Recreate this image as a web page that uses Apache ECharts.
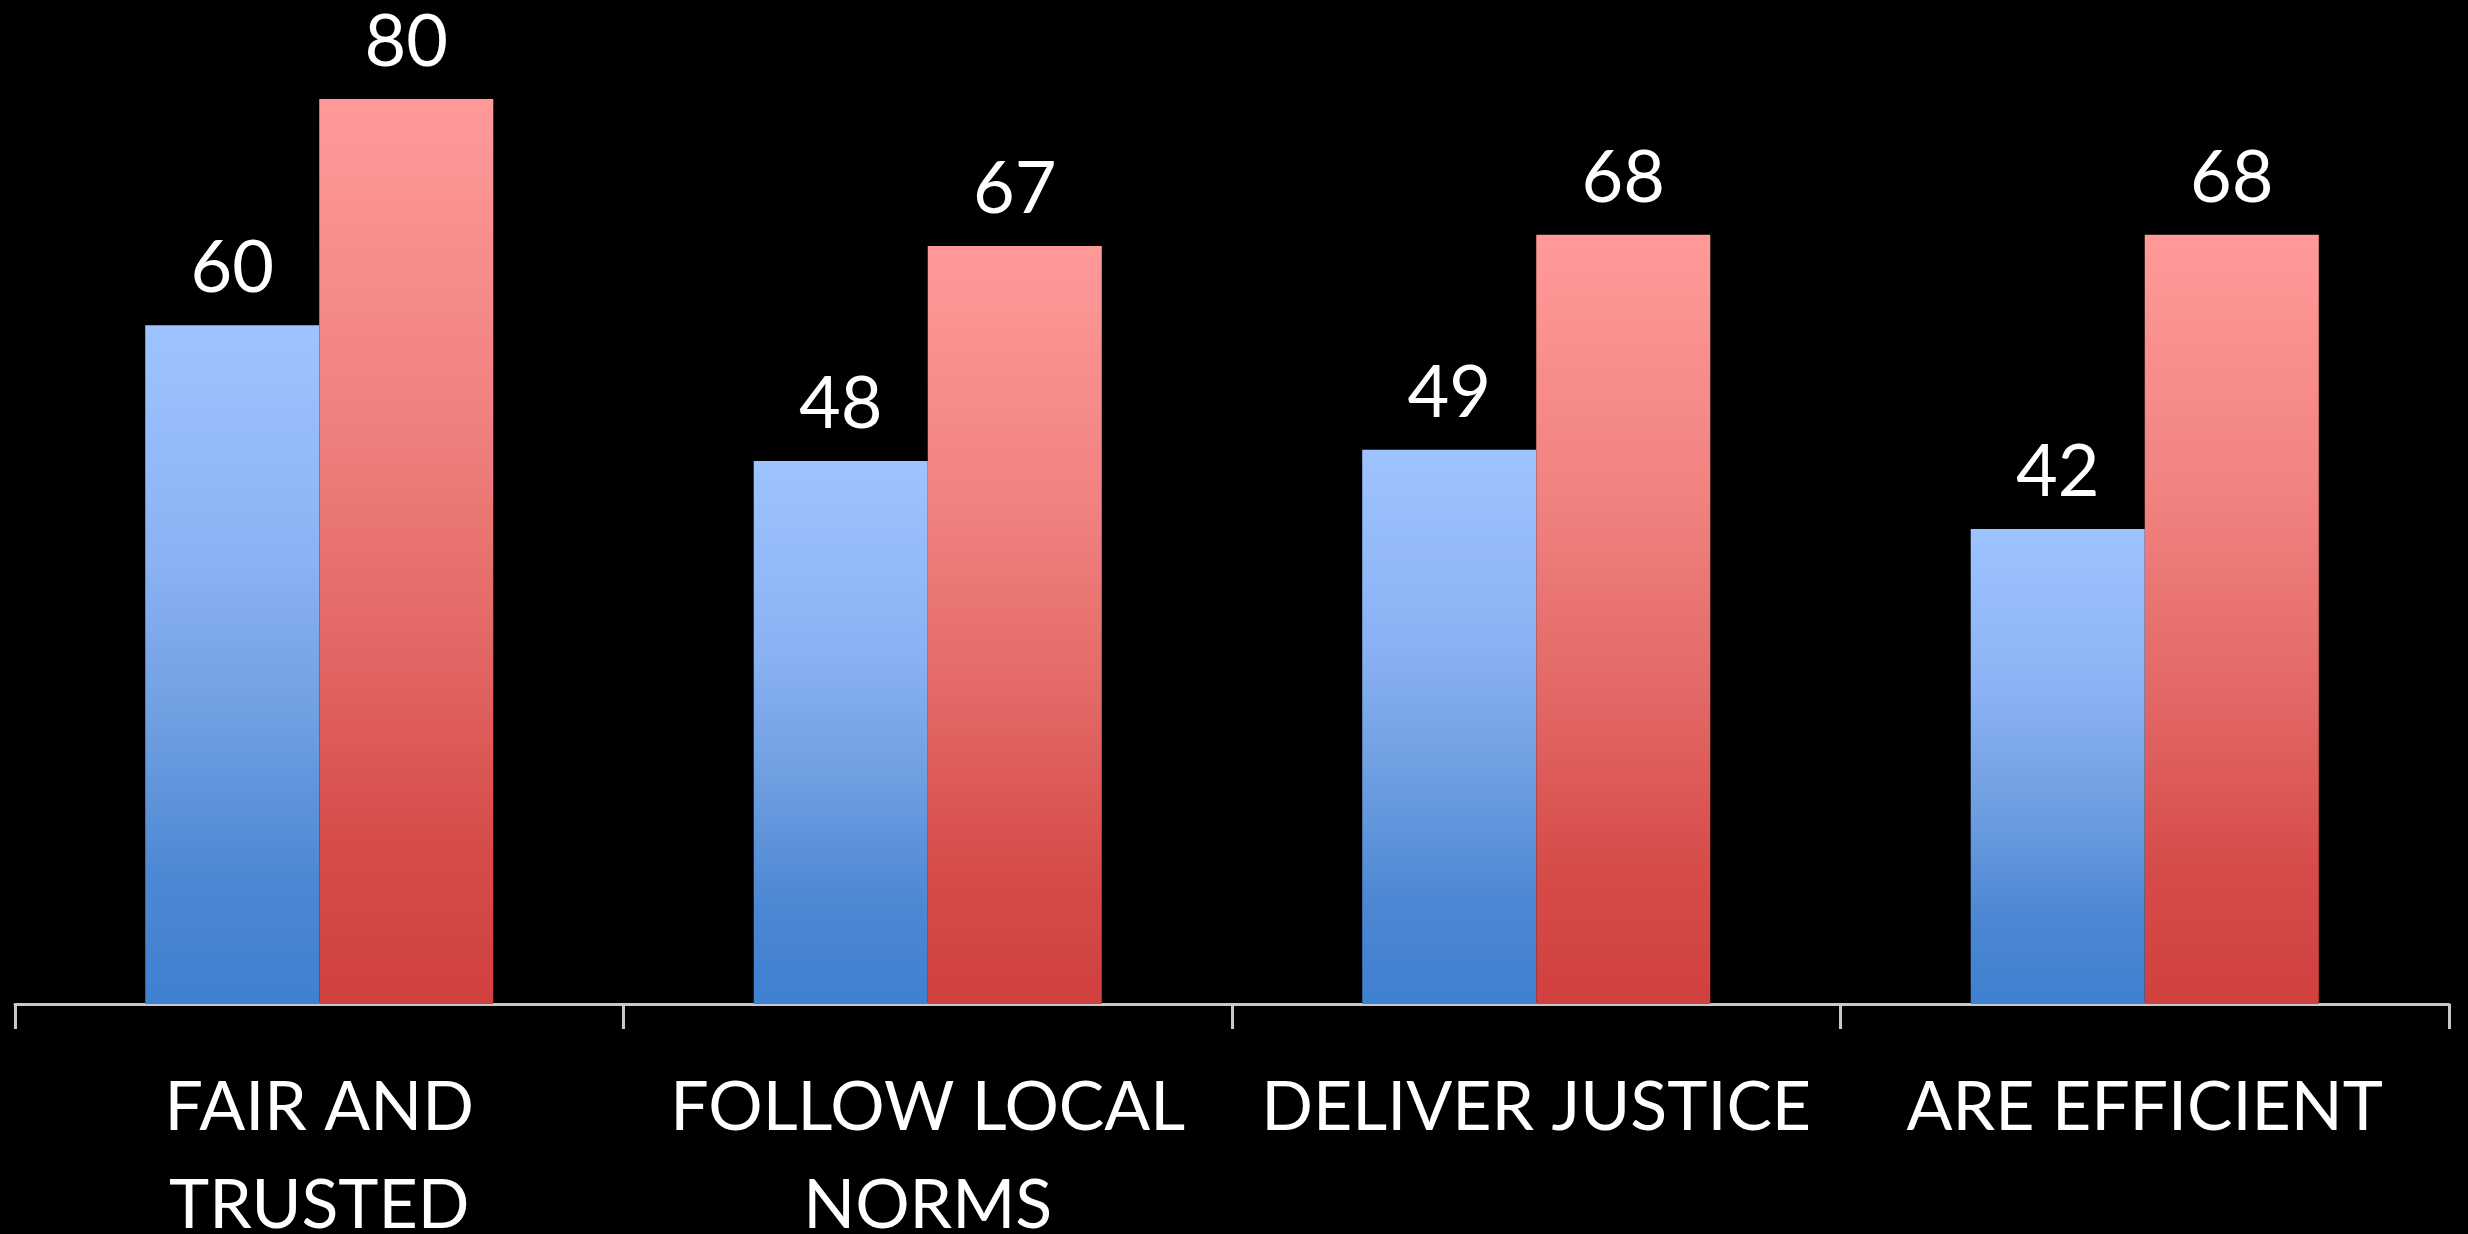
<!DOCTYPE html>
<html>
<head>
<meta charset="utf-8">
<script src="https://cdn.jsdelivr.net/npm/echarts@6/dist/echarts.min.js"></script>
<style>
html,body{margin:0;padding:0;background:#000;}
#c{width:2468px;height:1234px;}
</style>
</head>
<body>
<div id="c"></div>
<script>
const categories = ["FAIR AND\nTRUSTED", "FOLLOW LOCAL\nNORMS", "DELIVER JUSTICE", "ARE EFFICIENT"];
const seriesBlue = [60, 48, 49, 42];
const seriesRed = [80, 67, 68, 68];
const yMin = 0;
const yMax = 80;

const chart = echarts.init(document.getElementById('c'));
function grad(stops) {
  return new echarts.graphic.LinearGradient(0, 0, 0, 1,
    stops.map(s => ({offset: s[0], color: s[1]})));
}
const blueStops = [[0, '#9ec3ff'], [0.35, '#8ab2f4'], [0.6, '#6d9de0'], [0.82, '#4c87d3'], [1, '#3f80d0']];
const redStops = [[0, '#ff9a98'], [0.35, '#f0817f'], [0.6, '#e26865'], [0.82, '#d64c49'], [1, '#d0403e']];
const labelStyle = {
  show: true,
  position: 'top',
  distance: 20,
  color: '#ffffff',
  fontFamily: 'Lato',
  fontSize: 72
};
chart.setOption({
  backgroundColor: '#000000',
  animation: false,
  grid: {left: 15, right: 19, top: 99, bottom: 230, containLabel: false, outerBoundsMode: 'none'},
  xAxis: {
    type: 'category',
    data: categories,
    axisLine: {show: true, lineStyle: {color: '#c8c8c8', width: 3}},
    axisTick: {show: true, length: 25, lineStyle: {color: '#c8c8c8', width: 3}},
    axisLabel: {
      color: '#ffffff',
      fontFamily: 'Lato',
      fontSize: 68,
      lineHeight: 98,
      margin: 55,
      interval: 0
    }
  },
  yAxis: {
    type: 'value',
    min: yMin,
    max: yMax,
    show: false,
    splitLine: {show: false}
  },
  series: [
    {
      type: 'bar',
      data: seriesBlue,
      barGap: '0%',
      barCategoryGap: '42.8%',
      itemStyle: {color: grad(blueStops)},
      label: labelStyle
    },
    {
      type: 'bar',
      data: seriesRed,
      barGap: '0%',
      barCategoryGap: '42.8%',
      itemStyle: {color: grad(redStops)},
      label: labelStyle
    }
  ]
});
</script>
</body>
</html>
